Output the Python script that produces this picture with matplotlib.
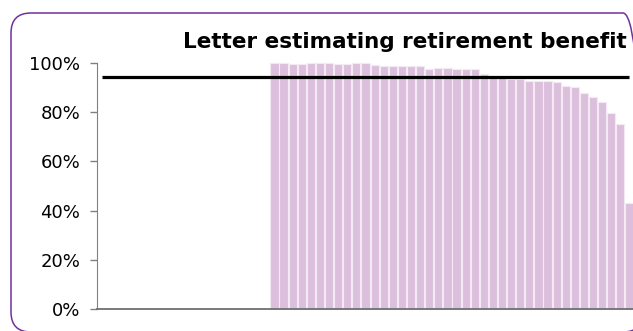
import numpy as np
import matplotlib
matplotlib.use("Agg")
import matplotlib.pyplot as plt
from matplotlib.patches import FancyBboxPatch
from matplotlib.transforms import IdentityTransform
from matplotlib.ticker import PercentFormatter

# data
title = "Letter estimating retirement benefit"
n_empty = 19  # categories on the left with no bar
bar_values = [1.000, 1.000, 0.996, 0.996, 1.000, 1.000, 1.000, 0.996, 0.996, 1.000,
              1.000, 0.993, 0.986, 0.986, 0.986, 0.986, 0.986, 0.977, 0.981, 0.981,
              0.977, 0.975, 0.975, 0.955, 0.945, 0.938, 0.936, 0.934, 0.927, 0.927,
              0.926, 0.923, 0.907, 0.901, 0.878, 0.862, 0.841, 0.797, 0.752, 0.432]
target = 0.942
y_ticks = [0, 0.2, 0.4, 0.6, 0.8, 1.0]

values = [np.nan] * n_empty + bar_values
x = np.arange(len(values))

fig = plt.figure(figsize=(6.33, 3.31), dpi=100)
W, H = 633, 331
ax = fig.add_axes([97 / W, 1 - 309 / H, (634 - 97) / W, (309 - 63) / H])

ax.bar(x, values, width=0.9, color="#dcbfdc", edgecolor="#f4eaf4", linewidth=0.8, clip_on=False)
ax.plot(x, [target] * len(x), color="black", linewidth=2.3, solid_capstyle="butt")

ax.set_xlim(-0.5, len(values) - 0.5)
ax.set_ylim(0, 1.0)
ax.set_yticks(y_ticks)
ax.yaxis.set_major_formatter(PercentFormatter(1.0, decimals=0))
ax.tick_params(axis="y", length=5, width=1, color="#808080", pad=7, labelsize=13)
ax.tick_params(axis="x", bottom=False, labelbottom=False)
for side in ["top", "right"]:
    ax.spines[side].set_visible(False)
ax.spines["left"].set_color("#808080")
ax.spines["bottom"].set_color("#707070")
ax.spines["bottom"].set_linewidth(1.3)

fig.text(627 / W, 1 - 42 / H, title, ha="right", va="center",
         fontsize=15.5, fontweight="bold")

# rounded frame round the chart, its right side runs off the picture
frame = FancyBboxPatch((11, -1), 632, 319, boxstyle="round,pad=0,rounding_size=20",
                       transform=IdentityTransform(), facecolor="none",
                       edgecolor="#7030a0", linewidth=1.1, zorder=5)
fig.add_artist(frame)

fig.savefig("out.png", dpi=100)
